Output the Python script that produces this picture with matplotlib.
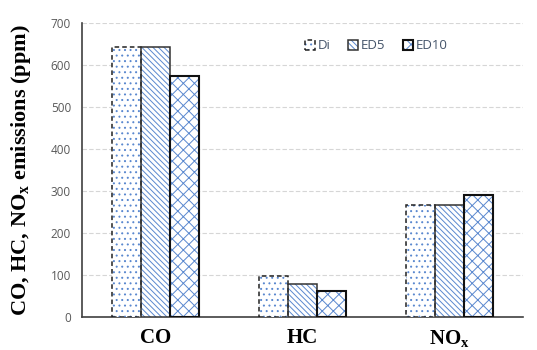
import matplotlib.pyplot as plt
import numpy as np
from matplotlib.patches import Patch

# 三種燃料在各排放物下的數值 (ppm)
pollutants = ["CO", "HC", r"NO$_\mathbf{x}$"]
fuels = ["Di", "ED5", "ED10"]
di_vals = [643, 97, 268]
ed5_vals = [643, 80, 268]
ed10_vals = [574, 63, 291]

plt.rcParams["hatch.linewidth"] = 0.7
plt.rcParams["mathtext.fontset"] = "custom"
plt.rcParams["mathtext.rm"] = "Liberation Serif"
plt.rcParams["mathtext.bf"] = "Liberation Serif:bold"

fig = plt.figure(figsize=(5.37, 3.5), dpi=100)
ax = fig.add_axes([0.153, 0.094, 0.821, 0.840])

x = np.arange(len(pollutants))
w = 0.197
hatch_blue = "#5a88cf"

# 每種燃料的填充樣式與邊框
hatches = ["...", "\\\\\\\\\\\\", "xxx"]
edges = [
    dict(edgecolor="#222222", linestyle=(0, (3, 2)), linewidth=1.1),
    dict(edgecolor="#333333", linestyle="-", linewidth=1.1),
    dict(edgecolor="#111111", linestyle="-", linewidth=1.5),
]

handles = []
for k, vals in enumerate([di_vals, ed5_vals, ed10_vals]):
    # 先畫藍色填充，再疊上黑色邊框
    ax.bar(x + (k - 1) * w, vals, w, facecolor="white", edgecolor=hatch_blue,
           hatch=hatches[k], linewidth=0, zorder=3)
    ax.bar(x + (k - 1) * w, vals, w, facecolor="none", zorder=4, **edges[k])
    handles.append((Patch(facecolor="white", edgecolor=hatch_blue, hatch=hatches[k], linewidth=0),
                    Patch(facecolor="none", **edges[k])))

ax.set_xlim(-0.5, 2.5)
ax.set_ylim(0, 700)
ax.set_yticks(range(0, 701, 100))
ax.set_xticks(x)
ax.set_xticklabels(pollutants, fontsize=15, fontweight="bold", family="Liberation Serif")
ax.tick_params(axis="x", length=0, pad=8)
ax.tick_params(axis="y", length=0, labelsize=8.5, labelcolor="#595959", pad=8)
for lab in ax.get_yticklabels():
    lab.set_family("Open Sans")

ax.yaxis.grid(True, color="#d6d6d6", linestyle=(0, (4, 2)), linewidth=0.8, zorder=0)
ax.set_axisbelow(True)
for side in ["top", "right"]:
    ax.spines[side].set_visible(False)
ax.spines["left"].set_color("#404040")
ax.spines["bottom"].set_color("#404040")
ax.spines["left"].set_linewidth(1.2)
ax.spines["bottom"].set_linewidth(1.2)

ax.set_ylabel(r"CO, HC, NO$_\mathbf{x}$ emissions (ppm)", fontsize=16, fontweight="bold",
              family="Liberation Serif")
ax.yaxis.set_label_coords(-0.112, 0.5)

leg = ax.legend(handles, fuels, loc="upper center", bbox_to_anchor=(0.667, 0.985), ncol=3,
                frameon=False, handlelength=0.8, handleheight=0.8, handletextpad=0.2,
                columnspacing=1.3, prop={"family": "Open Sans", "size": 9.5})
for t in leg.get_texts():
    t.set_color("#44546a")

fig.savefig("out.png", dpi=100)
